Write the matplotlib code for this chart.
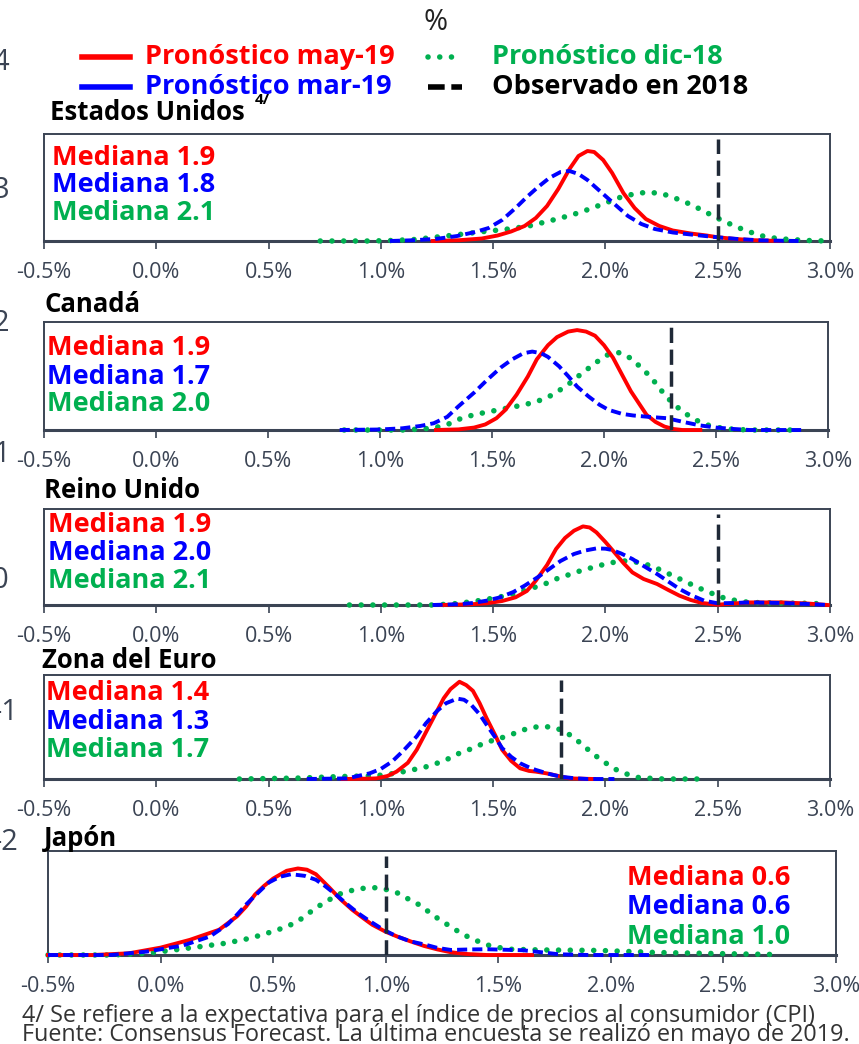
import matplotlib
matplotlib.use("Agg")
import matplotlib.pyplot as plt
from matplotlib import font_manager
from matplotlib.lines import Line2D
from matplotlib.ticker import FixedLocator, FuncFormatter

_names = {f.name for f in font_manager.fontManager.ttflist}
FONT = "Liberation Sans Narrow" if "Liberation Sans Narrow" in _names else "Open Sans"
plt.rcParams["font.family"] = [FONT, "DejaVu Sans"]

RED, BLUE, GREEN = "#FF0000", "#0000FF", "#00B050"
INK = "#3B4454"
OBS_C = "#1F2937"

# ── data: (x in %, density in arbitrary units) ────────────────────────────────
us_may_x = [1.23, 1.35, 1.45, 1.52, 1.58, 1.64, 1.69, 1.74, 1.79, 1.84, 1.88, 1.92, 1.95, 1.99, 2.03, 2.08,
            2.13, 2.18, 2.24, 2.30, 2.38, 2.45, 2.50, 2.58, 2.66, 2.78]
us_may_y = [0, 0.8, 2.5, 5.5, 9.5, 15, 23, 35, 52, 72, 85, 90, 89, 81, 68, 48,
            33, 22, 15, 10.5, 7.5, 5.5, 3.7, 2, 0.8, 0]
us_mar_x = [1.04, 1.15, 1.25, 1.34, 1.42, 1.48, 1.54, 1.60, 1.65, 1.70, 1.75, 1.80, 1.84, 1.88, 1.92, 1.96,
            2.00, 2.05, 2.10, 2.16, 2.22, 2.30, 2.40, 2.50, 2.60, 2.70, 2.86]
us_mar_y = [0, 0.8, 2.2, 5, 9, 13, 21, 33, 44, 54, 63, 69, 70, 67, 61, 53,
            45, 35, 25, 17, 12, 8.5, 6, 3.7, 1.8, 0.6, 0]
us_dic_x = [0.73, 0.95, 1.05, 1.15, 1.25, 1.35, 1.45, 1.55, 1.65, 1.75, 1.85, 1.93, 2.00, 2.07, 2.14, 2.19,
            2.25, 2.30, 2.35, 2.40, 2.45, 2.50, 2.55, 2.60, 2.65, 2.70, 2.75, 2.81, 2.90, 2.99]
us_dic_y = [0, 0, 0.5, 1.5, 4, 6.5, 9.3, 11.5, 14.5, 20, 26, 32, 38, 44, 47.7, 48.7,
            47.5, 43.7, 39.5, 34.3, 28.5, 22.7, 17.5, 12.7, 8.5, 5, 3, 1.7, 0.5, 0]

ca_may_x = [1.25, 1.35, 1.42, 1.47, 1.52, 1.56, 1.61, 1.66, 1.70, 1.75, 1.79, 1.84, 1.88, 1.92, 1.96, 2.00,
            2.04, 2.08, 2.12, 2.16, 2.19, 2.23, 2.27, 2.31, 2.35, 2.43]
ca_may_y = [0, 0.6, 2.4, 5.5, 11.7, 20, 35, 53, 70, 84, 92, 97.5, 99, 97.5, 93.4, 84,
            71.7, 55, 38.4, 25, 15, 8, 3.4, 1, 0, 0]
ca_mar_x = [0.82, 1.00, 1.10, 1.18, 1.24, 1.30, 1.35, 1.42, 1.48, 1.54, 1.59, 1.64, 1.68, 1.72, 1.75, 1.80,
            1.84, 1.88, 1.93, 1.98, 2.02, 2.08, 2.13, 2.20, 2.28, 2.36, 2.43, 2.50, 2.58, 2.65, 2.88]
ca_mar_y = [0, 0.5, 1.7, 4, 6.7, 13, 23.4, 37, 50, 62, 70, 76, 77.7, 76, 72.4, 63,
            53.4, 43, 33.4, 25, 20, 16, 14.4, 13, 11.7, 7.7, 4.5, 2.4, 1, 0, 0]
ca_dic_x = [0.84, 1.10, 1.20, 1.27, 1.32, 1.37, 1.45, 1.53, 1.61, 1.69, 1.75, 1.79, 1.84, 1.88, 1.93, 1.97,
            2.02, 2.07, 2.12, 2.16, 2.20, 2.24, 2.27, 2.31, 2.35, 2.40, 2.45, 2.50, 2.56, 2.65, 2.84]
ca_dic_y = [0, 0, 1.2, 3.4, 7, 12.4, 16.5, 20, 23.5, 27.4, 32.5, 37.7, 45, 52.4, 61, 67.7,
            75, 76.7, 71, 63, 54.4, 44, 35, 26, 18.4, 11, 5.7, 2.8, 1, 0, 0]

uk_may_x = [1.27, 1.40, 1.47, 1.54, 1.60, 1.65, 1.69, 1.74, 1.78, 1.82, 1.86, 1.90, 1.93, 1.96, 2.00, 2.04,
            2.08, 2.12, 2.17, 2.23, 2.28, 2.33, 2.38, 2.43, 2.50, 2.57, 2.64, 2.79, 2.90, 2.99]
uk_may_y = [0, 0.7, 1.7, 4, 7.7, 14, 24.3, 40, 56, 67, 74.3, 78.6, 77.5, 72.6, 63, 52.6,
            42, 32.6, 26, 21, 15, 9.3, 5, 2, 0.3, 1.5, 2.6, 2.6, 1.5, 0]
uk_mar_x = [1.23, 1.35, 1.41, 1.47, 1.53, 1.59, 1.64, 1.70, 1.75, 1.80, 1.86, 1.91, 1.96, 2.00, 2.03, 2.07,
            2.12, 2.17, 2.23, 2.28, 2.33, 2.38, 2.44, 2.50, 2.57, 2.64, 2.79, 2.90, 2.99]
uk_mar_y = [0, 0.8, 2, 4.3, 7.6, 13, 19.3, 28, 36, 44, 51, 54.5, 56.6, 56.3, 55, 51.5,
            46, 39, 31, 23.5, 16, 10, 4.3, 1.7, 2, 2.6, 2, 1, 0]
uk_dic_x = [0.86, 1.23, 1.30, 1.35, 1.44, 1.52, 1.60, 1.67, 1.73, 1.78, 1.84, 1.89, 1.95, 2.00, 2.05, 2.10,
            2.16, 2.21, 2.26, 2.31, 2.36, 2.41, 2.47, 2.52, 2.58, 2.64, 2.75, 2.90, 2.99]
uk_dic_y = [0, 0, 0.8, 1.7, 4.5, 7.6, 11.5, 16.6, 21, 26, 30.5, 34.3, 38, 41, 43.3, 44.3,
            42, 38.6, 33.5, 28.3, 23, 17.6, 12, 7.6, 4.5, 2.6, 2, 1.7, 1]

eu_may_x = [0.83, 0.93, 0.98, 1.03, 1.07, 1.12, 1.16, 1.20, 1.25, 1.28, 1.31, 1.35, 1.38, 1.41, 1.44, 1.47,
            1.51, 1.54, 1.58, 1.62, 1.66, 1.69, 1.74, 1.77, 1.84, 1.95]
eu_may_y = [0, 0.3, 0.6, 3, 7.3, 16, 29, 46, 67.3, 80, 89, 96.3, 93, 87.3, 75, 60.6,
            43, 29, 18, 10.6, 8, 7.3, 5.5, 4, 0.6, 0]
eu_mar_x = [0.67, 0.85, 0.95, 1.00, 1.05, 1.10, 1.16, 1.20, 1.25, 1.29, 1.34, 1.37, 1.40, 1.44, 1.47, 1.51,
            1.54, 1.58, 1.62, 1.66, 1.69, 1.75, 1.80, 1.86, 1.92, 2.04]
eu_mar_y = [0, 0.6, 5.6, 10, 17.3, 28, 42.3, 55, 67.3, 75, 79.6, 78.5, 74, 64, 54, 41,
            30.6, 22, 15.6, 11.5, 9, 5, 2.3, 0.8, 0, 0]
eu_dic_x = [0.37, 0.65, 0.80, 0.98, 1.06, 1.14, 1.20, 1.25, 1.30, 1.35, 1.41, 1.46, 1.51, 1.56, 1.61, 1.66,
            1.72, 1.78, 1.83, 1.87, 1.91, 1.95, 2.00, 2.05, 2.10, 2.15, 2.26, 2.42]
eu_dic_y = [0, 1, 2.3, 3.3, 5.5, 9, 12, 15.6, 20, 25.6, 30.5, 35.6, 39, 42.3, 46.5, 50.6,
            52.3, 50.6, 45.5, 39, 31.5, 24, 16, 9, 4.5, 1.3, 0, 0]

jp_may_x = [-0.50, -0.30, -0.14, 0.00, 0.13, 0.26, 0.34, 0.38, 0.42, 0.46, 0.50, 0.56, 0.61, 0.65, 0.69, 0.75,
            0.80, 0.85, 0.90, 0.94, 1.00, 1.05, 1.11, 1.17, 1.23, 1.29, 1.36, 1.45, 1.65]
jp_may_y = [0, 0, 1.7, 7.3, 15, 25, 38.4, 48, 60, 68.5, 75.7, 83.4, 85.7, 84.5, 80, 66.7,
            55, 45, 36.5, 30, 23, 18.4, 13.5, 9, 5.5, 2.7, 1, 0, 0]
jp_mar_x = [-0.50, -0.22, -0.06, 0.10, 0.22, 0.30, 0.34, 0.38, 0.43, 0.48, 0.53, 0.58, 0.64, 0.69, 0.73, 0.78,
            0.83, 0.88, 0.93, 0.99, 1.05, 1.11, 1.18, 1.23, 1.29, 1.37, 1.45, 1.61, 1.70, 1.77, 1.90, 2.17]
jp_mar_y = [0, 0, 3.4, 9.4, 18.4, 30.7, 40, 50, 61, 71.7, 77.5, 80, 78.4, 74.5, 68.4, 59.5,
            50, 41, 33.4, 25, 18.4, 13.5, 10, 7, 5, 5.5, 5.7, 4.7, 2.5, 0.7, 0, 0]
jp_dic_x = [-0.50, -0.22, -0.06, 0.06, 0.18, 0.29, 0.40, 0.50, 0.56, 0.61, 0.65, 0.69, 0.74, 0.79, 0.84, 0.90,
            0.96, 1.00, 1.05, 1.10, 1.16, 1.20, 1.25, 1.30, 1.34, 1.40, 1.45, 1.50, 1.55, 1.69, 1.95, 2.20,
            2.45, 2.73]
jp_dic_y = [0, 0, 1.7, 5, 8.4, 11.7, 16.7, 23.4, 28, 33.4, 40, 46.7, 53.5, 60, 63.5, 66,
            66.7, 65, 61.7, 55.5, 48.4, 41, 33.4, 26.5, 20.7, 14.5, 10, 7.5, 5.7, 5, 4.5, 2.5,
            1.5, 0.5]

countries = ["Estados Unidos", "Canadá", "Reino Unido", "Zona del Euro", "Japón"]
observed = [2.5, 2.3, 2.5, 1.8, 1.0]
med_may = [1.9, 1.9, 1.9, 1.4, 0.6]
med_mar = [1.8, 1.7, 2.0, 1.3, 0.6]
med_dic = [2.1, 2.0, 2.1, 1.7, 1.0]
series = [
    (us_may_x, us_may_y, us_mar_x, us_mar_y, us_dic_x, us_dic_y),
    (ca_may_x, ca_may_y, ca_mar_x, ca_mar_y, ca_dic_x, ca_dic_y),
    (uk_may_x, uk_may_y, uk_mar_x, uk_mar_y, uk_dic_x, uk_dic_y),
    (eu_may_x, eu_may_y, eu_mar_x, eu_mar_y, eu_dic_x, eu_dic_y),
    (jp_may_x, jp_may_y, jp_mar_x, jp_mar_y, jp_dic_x, jp_dic_y),
]
xticks = [-0.5, 0.0, 0.5, 1.0, 1.5, 2.0, 2.5, 3.0]

# ── layout (pixels on an 859x1044 canvas) ─────────────────────────────────────
W, H = 859, 1044
# left, right, top, bottom of each panel box, and its y-limit
boxes = [(44, 830, 134, 241), (44, 828, 322, 430), (44, 830, 509, 605), (44, 830, 675, 779), (48, 836, 851, 955)]
ytops = [107, 107, 96, 103, 103]
title_y = [112, 305, 490, 661, 838]
title_x = [50, 44, 44, 42, 44]
# y-centres of the three "Mediana" labels (pixels)
med_y = [(158, 185, 213), (348, 377, 404), (525, 553, 581), (693, 722, 750), (878, 907, 937)]
med_x = [52, 47, 48, 46, 790]

DOTS = (0, (0.01, 2.1))
fig = plt.figure(figsize=(W / 100, H / 100), dpi=100)


def fx(px):
    return px / W


def fy(py):
    return 1 - py / H


for i, (l, r, t, b) in enumerate(boxes):
    ax = fig.add_axes([fx(l), fy(b), fx(r - l), (b - t) / H])
    mx, my, rx, ry, gx, gy = series[i]
    ax.plot(gx, gy, color=GREEN, lw=4.0, linestyle=DOTS, dash_capstyle="round",
            clip_on=False, zorder=3)
    ax.plot(mx, my, color=RED, lw=2.8, clip_on=False, zorder=4)
    ax.plot(rx, ry, color=BLUE, lw=2.8, linestyle=(0, (2.6, 1.3)), clip_on=False, zorder=5)
    ax.axvline(observed[i], ymin=0, ymax=0.95, color=OBS_C, lw=2.5, linestyle=(0, (4.4, 1.9)), zorder=6)

    ax.set_xlim(-0.5, 3.0)
    ax.set_ylim(0, ytops[i])
    ax.xaxis.set_major_locator(FixedLocator(xticks))
    ax.xaxis.set_major_formatter(FuncFormatter(lambda v, p: f"{v:.1f}%"))
    ax.set_yticks([])
    ax.tick_params(axis="x", direction="out", length=6, width=1.2, color=INK,
                   labelcolor=INK, labelsize=15.5, pad=9)
    for s in ["top", "left", "right"]:
        ax.spines[s].set_color(INK)
        ax.spines[s].set_linewidth(1.4)
    ax.spines["bottom"].set_color(INK)
    ax.spines["bottom"].set_linewidth(2.2)
    ax.set_facecolor("white")

    # country title
    fig.text(fx(title_x[i]), fy(title_y[i]), countries[i], fontsize=18.5, fontweight="bold",
             color="black", ha="left", va="center")

    # median labels
    ha = "right" if i == 4 else "left"
    for (val, col), yy in zip([(med_may[i], RED), (med_mar[i], BLUE), (med_dic[i], GREEN)], med_y[i]):
        fig.text(fx(med_x[i]), fy(yy), f"Mediana {val:.1f}", color=col, fontsize=19.5,
                 fontweight="bold", ha=ha, va="center")

# superscript on the first title
fig.text(fx(255), fy(100), "4/", fontsize=11, fontweight="bold", ha="left", va="center")

# ── legend across the top ─────────────────────────────────────────────────────
fig.text(fx(436), fy(22), "%", fontsize=21, color="#222222", ha="center", va="center")
leg = [
    (82, 130, 57, RED, "-", 4.0, "Pronóstico may-19", 145),
    (82, 130, 87, BLUE, "-", 4.0, "Pronóstico mar-19", 145),
    (428, 462, 57, GREEN, DOTS, 4.0, "Pronóstico dic-18", 492),
    (428, 462, 87, "black", (0, (3.0, 1.2)), 4.0, "Observado en 2018", 492),
]
for x0, x1, yy, col, ls, lw, label, tx in leg:
    fig.add_artist(Line2D([fx(x0), fx(x1)], [fy(yy)] * 2, color=col, lw=lw, linestyle=ls,
                          dash_capstyle="round" if col == GREEN else "butt"))
    fig.text(fx(tx), fy(yy), label, color=col, fontsize=19.5, fontweight="bold", ha="left", va="center")

# stray axis numbers at the left edge of the original slide
for lab, yy, xr in [("4", 62, 9), ("3", 191, 9), ("2", 323, 9), ("1", 455, 10),
                    ("0", 580, 8), ("-1", 713, 19), ("-2", 843, 19)]:
    fig.text(fx(xr), fy(yy), lab, fontsize=21, color=INK, ha="right", va="center")

# footnotes
fig.text(fx(22), fy(1016), "4/ Se refiere a la expectativa para el índice de precios al consumidor (CPI)",
         fontsize=16.8, color="#333333", ha="left", va="center")
fig.text(fx(22), fy(1035), "Fuente: Consensus Forecast. La última encuesta se realizó en mayo de 2019.",
         fontsize=16.8, color="#333333", ha="left", va="center")

fig.savefig("out.png", dpi=100, facecolor="white")
